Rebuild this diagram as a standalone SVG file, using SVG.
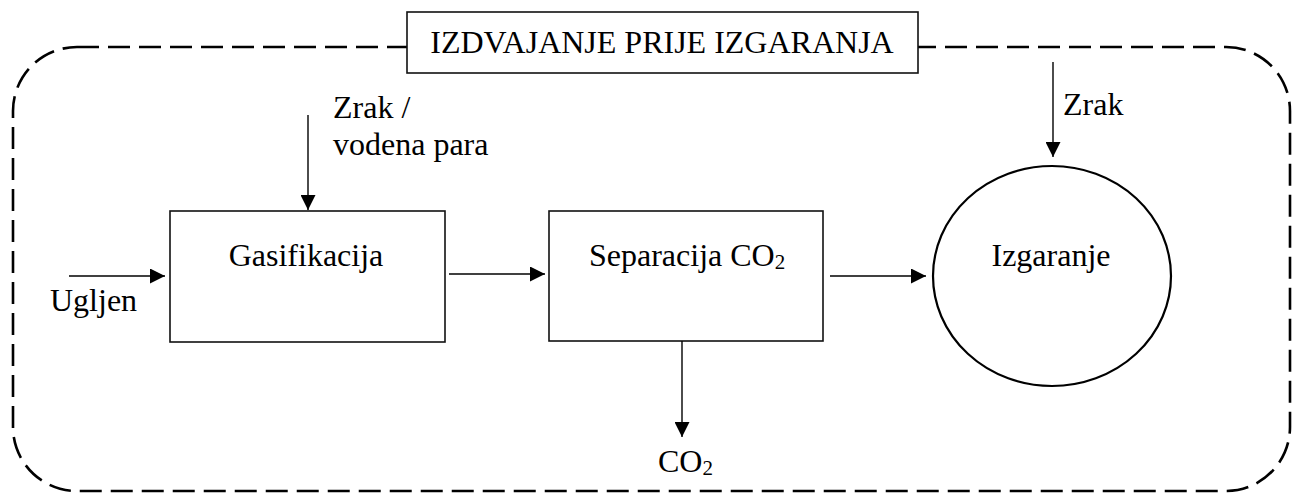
<svg xmlns="http://www.w3.org/2000/svg" width="1292" height="493" viewBox="0 0 1292 493">
<style>
text{font-family:'Liberation Serif','Times New Roman',Times,'DejaVu Serif',serif;font-size:32px;fill:#000}
.box{fill:#fff;stroke:#111;stroke-width:1.6}
.ln{stroke:#000;stroke-width:1.4;fill:none}
.sub{font-size:21px}
</style>
<defs>
<marker id="ah" viewBox="0 0 10 10" refX="10" refY="5" markerWidth="15" markerHeight="15" markerUnits="userSpaceOnUse" orient="auto">
<path d="M0,0 L10,5 L0,10 z" fill="#000"/>
</marker>
</defs>
<g id="boundary">
<rect x="13" y="47" width="1277" height="444" rx="64" ry="64" fill="none" stroke="#000" stroke-width="2.6" stroke-dasharray="22 9"/>
</g>
<g id="title">
<rect class="box" x="407" y="12" width="511" height="61"/>
<text x="662" y="53" text-anchor="middle" font-family="Liberation Serif, serif">IZDVAJANJE PRIJE IZGARANJA</text>
</g>
<g id="gasifikacija">
<rect class="box" x="170" y="211" width="275" height="131"/>
<text x="306" y="266" text-anchor="middle" font-family="Liberation Serif, serif">Gasifikacija</text>
</g>
<g id="separacija">
<rect class="box" x="549" y="211" width="274" height="130"/>
<text x="589" y="266" font-family="Liberation Serif, serif">Separacija CO<tspan class="sub" dy="3">2</tspan></text>
</g>
<g id="izgaranje">
<ellipse cx="1052" cy="276" rx="119" ry="110" fill="#fff" stroke="#000" stroke-width="2.2"/>
<text x="1051" y="266" text-anchor="middle" font-family="Liberation Serif, serif">Izgaranje</text>
</g>
<g id="labels" font-family="Liberation Serif, serif">
<text x="333" y="118">Zrak /</text>
<text x="333" y="155">vodena para</text>
<text x="1063" y="115">Zrak</text>
<text x="50" y="311">Ugljen</text>
<text x="658" y="472">CO<tspan class="sub" dy="3">2</tspan></text>
</g>
<g id="connectors">
<line class="ln" x1="308" y1="115" x2="308" y2="210" marker-end="url(#ah)"/>
<line class="ln" x1="69" y1="276" x2="165" y2="276" marker-end="url(#ah)"/>
<line class="ln" x1="449" y1="274" x2="545" y2="274" marker-end="url(#ah)"/>
<line class="ln" x1="682" y1="341" x2="682" y2="437" marker-end="url(#ah)"/>
<line class="ln" x1="830" y1="276" x2="926" y2="276" marker-end="url(#ah)"/>
<line class="ln" x1="1053" y1="62" x2="1053" y2="157" marker-end="url(#ah)"/>
</g>
</svg>
